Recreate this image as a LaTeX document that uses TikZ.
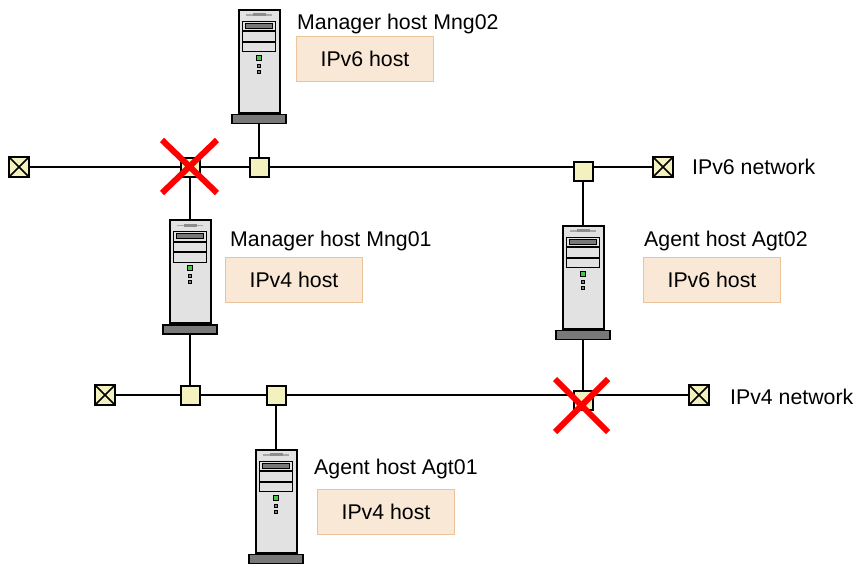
\documentclass[tikz,border=0pt]{standalone}
\usepackage{fontspec}
\setmainfont{Liberation Sans}
\usetikzlibrary{positioning,calc,backgrounds}

\definecolor{jointfill}{RGB}{243,241,190}
\definecolor{notefill}{RGB}{250,232,214}
\definecolor{noteline}{RGB}{236,196,155}
\definecolor{bodyfill}{RGB}{226,226,226}
\definecolor{basefill}{RGB}{120,120,120}
\definecolor{ledfill}{RGB}{70,200,70}

\tikzset{
    hostbody/.style={draw,line width=2pt,fill=bodyfill,minimum width=41,minimum height=103,inner sep=0},
    hostbase/.style={draw,line width=1.6pt,fill=basefill,minimum width=54,minimum height=9,inner sep=0},
    bay/.style={draw,line width=1.1pt,fill=bodyfill,minimum width=33,minimum height=9.5,inner sep=0},
    joint/.style={draw,line width=2pt,fill=jointfill,minimum size=19,inner sep=0},
    endcap/.style={joint,minimum size=20,path picture={
        \draw[line width=1.5pt] (path picture bounding box.north west) -- (path picture bounding box.south east);
        \draw[line width=1.5pt] (path picture bounding box.north east) -- (path picture bounding box.south west);}},
    link/.style={line width=1.6pt},
    note/.style={draw=noteline,line width=1.2pt,fill=notefill,minimum width=137,minimum height=45,inner sep=0,font=\fontsize{21.3}{25}\selectfont},
    caption/.style={inner sep=0,anchor=base west,font=\fontsize{21.3}{25}\selectfont},
    failmark/.style={draw=red,line width=6pt}
}

% one server: body, base and the small parts on the front
\newcommand{\hostunit}[3]{
    \node[hostbody] (#1) at (#2,#3) {};
    \node[hostbase,below=0pt of #1] (#1base) {};
    \node[bay,below=12pt of #1.north] (#1bay1) {};
    \node[bay,below=0pt of #1bay1] (#1bay2) {};
    \node[bay,below=0pt of #1bay2] (#1bay3) {};
    \node[draw,line width=1.1pt,fill=basefill,minimum width=27,minimum height=5,inner sep=0] at (#1bay1) {};
    \node[fill=gray!70,minimum width=26,minimum height=1.4,inner sep=0,below=5.5pt of #1.north] (#1grip) {};
    \node[fill=gray!90,minimum width=13,minimum height=3,inner sep=0] at (#1grip) {};
    \node[draw,line width=1pt,fill=ledfill,minimum size=5,inner sep=0,below=46pt of #1.north] {};
    \node[draw,line width=0.8pt,fill=gray,minimum size=3,inner sep=0,below=55pt of #1.north] {};
    \node[draw,line width=0.8pt,fill=gray,minimum size=3,inner sep=0,below=61pt of #1.north] {};
}

\begin{document}
\begin{tikzpicture}[x=1pt,y=-1pt]
    \useasboundingbox (0,0) rectangle (854,565);

    \node[endcap] (v6left) at (19,167) {};
    \node[endcap] (v6right) at (663,167) {};
    \node[joint] (v6mng01) at (190,167) {};
    \node[joint] (v6mng02) at (259,167) {};
    \node[joint] (v6agt02) at (583,171) {};
    \node[endcap] (v4left) at (105,395) {};
    \node[endcap] (v4right) at (699,395) {};
    \node[joint] (v4mng01) at (190,395) {};
    \node[joint] (v4agt01) at (276,395) {};
    \node[joint] (v4agt02) at (583,400) {};

    \hostunit{mng02}{259}{61}
    \hostunit{mng01}{190}{271.5}
    \hostunit{agt02}{583}{277}
    \hostunit{agt01}{276}{501}

    \begin{scope}[on background layer]
    \draw[link] (v6left) -- (v6right);
    \draw[link] (v4left) -- (v4right);
    \draw[link] (mng02base) -- (v6mng02);
    \draw[link] (v6mng01) -- (mng01);
    \draw[link] (mng01base) -- (v4mng01);
    \draw[link] (v6agt02) -- (agt02);
    \draw[link] (agt02base) -- (v4agt02);
    \draw[link] (v4agt01) -- (agt01);
    \end{scope}

    \node[caption] (mng02label) at (297,29) {Manager host Mng02};
    \node[caption] (mng01label) at (230,246) {Manager host Mng01};
    \node[caption] (agt02label) at (644,246) {Agent host Agt02};
    \node[caption] (agt01label) at (314,474) {Agent host Agt01};
    \node[caption] (v6label) at (692,174) {IPv6 network};
    \node[caption] (v4label) at (730,404) {IPv4 network};

    \node[note] (mng02note) at (365,59) {IPv6 host};
    \node[note] (mng01note) at (294,280) {IPv4 host};
    \node[note] (agt02note) at (712,280) {IPv6 host};
    \node[note] (agt01note) at (386,512) {IPv4 host};

    \draw[failmark] (162,140) -- (217,193);
    \draw[failmark] (217,140) -- (162,193);
    \draw[failmark] (555,379) -- (608,432);
    \draw[failmark] (608,379) -- (555,432);
\end{tikzpicture}
\end{document}
